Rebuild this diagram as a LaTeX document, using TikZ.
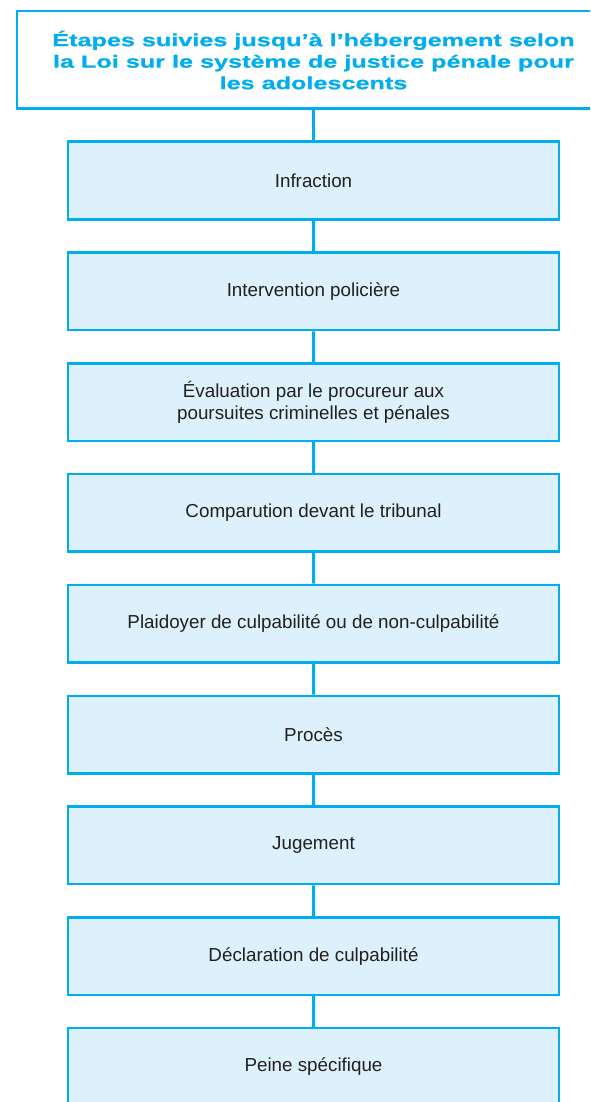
\documentclass[tikz,border=0pt]{standalone}
\usepackage{fontspec}
\setmainfont{Liberation Sans}
\newfontfamily\titrefont[FakeStretch=1.44,FakeBold=0.8]{Liberation Sans Bold}
\usepackage{tikz}
\usetikzlibrary{trees}
\definecolor{bleu}{RGB}{0,174,239}
\definecolor{bleupale}{RGB}{220,241,252}
\definecolor{texte}{RGB}{35,31,32}

\begin{document}
\begin{tikzpicture}[%
  entete/.style={rectangle,draw=bleu,fill=white,line width=2.5pt,
    minimum width=593.5pt,minimum height=97.5pt,align=center,text=bleu,
    font=\titrefont\fontsize{17.5}{21.5}\selectfont},
  etape/.style={rectangle,draw=bleu,fill=bleupale,line width=2.5pt,
    minimum width=491pt,minimum height=77.5pt,align=center,text=texte,
    font=\fontsize{18.8}{22}\selectfont},
  edge from parent/.style={draw=bleu,line width=3pt},
  grow=down,
  level/.style={level distance=110.8pt},
  level 1/.style={level distance=120.5pt}]
    \useasboundingbox (0,0) rectangle (590pt,-1102pt);
    \clip (0,0) rectangle (590pt,-1102pt);
    % Titre
    \node[entete] (titre) at (313.5pt,-60pt)
      {Étapes suivies jusqu’à l’hébergement selon\\
       la Loi sur le système de justice pénale pour\\
       les adolescents}
    % Etapes
    child {node[etape] (infraction) {Infraction}
      child {node[etape] (intervention) {Intervention policière}
        child {node[etape] (evaluation) {Évaluation par le procureur aux\\poursuites criminelles et pénales}
          child {node[etape] (comparution) {Comparution devant le tribunal}
            child {node[etape] (plaidoyer) {Plaidoyer de culpabilité ou de non-culpabilité}
              child {node[etape] (proces) {Procès}
                child {node[etape] (jugement) {Jugement}
                  child {node[etape] (declaration) {Déclaration de culpabilité}
                    child {node[etape] (peine) {Peine spécifique}}
                  }
                }
              }
            }
          }
        }
      }
    };
\end{tikzpicture}
\end{document}
